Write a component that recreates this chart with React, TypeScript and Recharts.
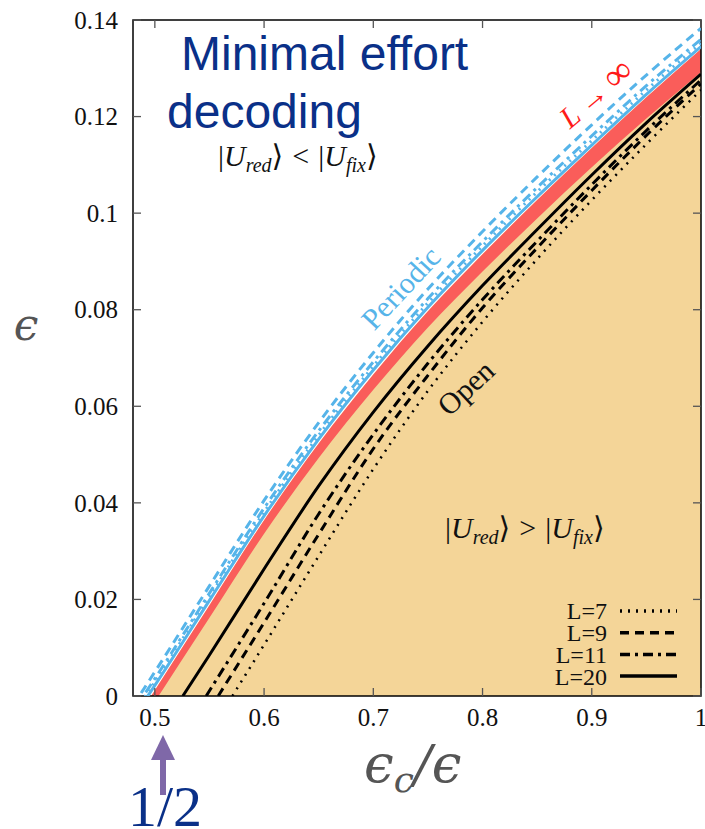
import React from "react";
import { ComposedChart, Line, Area, XAxis, YAxis, ReferenceArea } from "recharts";

const W = 705;
const H = 829;
const PLOT = { left: 133, right: 701, top: 20, bottom: 696 };

const xTicks = [0.5, 0.6, 0.7, 0.8, 0.9, 1];
const yTicks = [0, 0.02, 0.04, 0.06, 0.08, 0.1, 0.12, 0.14];

// L -> infinity band (lower / upper edge)
const bandX = [0.49, 0.5, 0.55, 0.6, 0.65, 0.7, 0.75, 0.8, 0.85, 0.9, 0.95, 1.0];
const bandLo = [-0.0047, -0.0012, 0.0162, 0.0336, 0.0493, 0.0634, 0.0763, 0.0879, 0.0989, 0.1095, 0.1196, 0.1292];
const bandHi = [-0.0023, 0.0012, 0.0188, 0.0364, 0.0523, 0.0666, 0.0797, 0.0915, 0.1027, 0.1135, 0.124, 0.134];

// periodic boundaries
const perX = [0.48, 0.49, 0.5, 0.55, 0.6, 0.65, 0.7, 0.75, 0.8, 0.85, 0.9, 0.95, 1.0];
const perL7 = [-0.0038, -0.0005, 0.0029, 0.0206, 0.0381, 0.054, 0.0683, 0.0814, 0.0932, 0.1044, 0.115, 0.1255, 0.1352];
const perL9 = [-0.002, 0.0015, 0.005, 0.0228, 0.0405, 0.0566, 0.0711, 0.0843, 0.0962, 0.1075, 0.1183, 0.1286, 0.1383];
const perL11 = [-0.0032, 0.0002, 0.0036, 0.0213, 0.0389, 0.0549, 0.0692, 0.0823, 0.0941, 0.1053, 0.116, 0.1264, 0.136];
const perL20 = [-0.0045, -0.0012, 0.0022, 0.0198, 0.0373, 0.0532, 0.0675, 0.0805, 0.0923, 0.1034, 0.1141, 0.1246, 0.1345];

// open boundaries
const openL7X = [0.571, 0.6, 0.65, 0.7, 0.75, 0.8, 0.85, 0.9, 0.95, 1.0];
const openL7 = [0, 0.0106, 0.029, 0.047, 0.0632, 0.0775, 0.0905, 0.1027, 0.1143, 0.1255];
const openL9X = [0.558, 0.6, 0.65, 0.7, 0.75, 0.8, 0.85, 0.9, 0.95, 1.0];
const openL9 = [0, 0.0152, 0.0335, 0.0512, 0.0664, 0.0804, 0.0928, 0.1047, 0.1161, 0.1268];
const openL11X = [0.547, 0.6, 0.65, 0.7, 0.75, 0.8, 0.85, 0.9, 0.95, 1.0];
const openL11 = [0, 0.0192, 0.0377, 0.0542, 0.0689, 0.0821, 0.0942, 0.1059, 0.1171, 0.1276];
const openL20X = [0.5256, 0.55, 0.6, 0.65, 0.7, 0.75, 0.8, 0.85, 0.9, 0.95, 1.0];
const openL20 = [0, 0.0085, 0.0263, 0.0435, 0.0588, 0.0725, 0.085, 0.0966, 0.1079, 0.1187, 0.1288];

const legendNames = ["L=7", "L=9", "L=11", "L=20"];
const dashes = ["2 6", "9 6", "10 5 3 5", ""];

const BEIGE = "#f4d598";
const RED = "#fa5d5a";
const BLUE = "#56b4e9";
const NAVY = "#0a3088";
const SERIF = "'Liberation Serif', 'DejaVu Serif', serif";

const pts = (xs: number[], ys: number[]) => xs.map((x, i) => ({ x, y: ys[i] }));
const bandData = bandX.map((x, i) => ({ x, y: bandHi[i], band: [bandLo[i], bandHi[i]] }));

const XTick = (props: any) => {
  const { x, payload } = props;
  return (
    <g>
      <line x1={x} x2={x} y1={PLOT.bottom} y2={PLOT.bottom - 8} stroke="#555" strokeWidth={1.3} />
      <line x1={x} x2={x} y1={PLOT.top} y2={PLOT.top + 8} stroke="#555" strokeWidth={1.3} />
      <text x={x} y={PLOT.bottom + 30} textAnchor="middle" fontFamily={SERIF} fontSize={25} fill="#111">
        {payload.value}
      </text>
    </g>
  );
};

const YTick = (props: any) => {
  const { y, payload } = props;
  return (
    <g>
      <line x1={PLOT.left} x2={PLOT.left + 8} y1={y} y2={y} stroke="#555" strokeWidth={1.3} />
      <line x1={PLOT.right} x2={PLOT.right - 8} y1={y} y2={y} stroke="#555" strokeWidth={1.3} />
      <text x={118} y={y} dy="0.35em" textAnchor="end" fontFamily={SERIF} fontSize={25} fill="#111">
        {payload.value}
      </text>
    </g>
  );
};

function UText({ x, y, op }: { x: number; y: number; op: string }) {
  const sub = { fontSize: 20, fontStyle: "italic" as const };
  return (
    <text x={x} y={y} fontFamily={SERIF} fontSize={30} fill="#111">
      |<tspan fontStyle="italic">U</tspan>
      <tspan {...sub} dy={6}>red</tspan>
      <tspan dy={-6}>⟩</tspan>
      <tspan dx={9}>{op}</tspan>
      <tspan dx={9}>|</tspan>
      <tspan fontStyle="italic">U</tspan>
      <tspan {...sub} dy={6}>fix</tspan>
      <tspan dy={-6}>⟩</tspan>
    </text>
  );
}

function Overlay() {
  return (
    <svg width={W} height={H} style={{ position: "absolute", left: 0, top: 0, pointerEvents: "none" }}>
      <text x={181} y={70} fontFamily="'Liberation Sans', Arial, sans-serif" fontSize={48} fill={NAVY}>
        Minimal effort
      </text>
      <text x={167} y={128} fontFamily="'Liberation Sans', Arial, sans-serif" fontSize={48} fill={NAVY}>
        decoding
      </text>

      <UText x={218} y={166} op="<" />
      <UText x={445} y={538} op=">" />

      <text x={401} y={298} textAnchor="middle" transform="rotate(-47 401 288)" fontFamily={SERIF} fontSize={30} fill={BLUE}>
        Periodic
      </text>
      <text x={466} y={398} textAnchor="middle" transform="rotate(-43 466 388)" fontFamily={SERIF} fontSize={30} fill="#111">
        Open
      </text>
      <text x={597} y={104} textAnchor="middle" transform="rotate(-40 597 95)" fontFamily={SERIF} fontSize={30} fill="#ff1a1a">
        <tspan fontStyle="italic">L</tspan>
        <tspan dx={6}>→</tspan>
        <tspan dx={6} fontSize={38}>∞</tspan>
      </text>

      <text x={26} y={340} textAnchor="middle" fontFamily="'DejaVu Serif', serif" fontStyle="italic" fontSize={44} fill="#555">
        ϵ
      </text>
      <text x={364} y={782} fontFamily="'DejaVu Serif', serif" fontStyle="italic" fontSize={53} fill="#555">
        ϵ<tspan fontSize={36} dy={10}>c</tspan>
        <tspan dy={-10}>/ϵ</tspan>
      </text>

      <rect x={160} y={755} width={6} height={40} fill="#7f68a8" />
      <polygon points="163,735 151,760 175,760" fill="#7f68a8" />
      <text x={128} y={826} fontFamily={SERIF} fontSize={58} fill={NAVY}>
        1/2
      </text>

      {legendNames.map((name, i) => {
        const y = 611 + i * 21.7;
        return (
          <g key={name}>
            <text x={607} y={y} dy="0.35em" textAnchor="end" fontFamily={SERIF} fontSize={24} fill="#111">
              {name}
            </text>
            <line x1={620} x2={677} y1={y} y2={y} stroke="#000" strokeWidth={3.5} strokeDasharray={dashes[i] || undefined} />
          </g>
        );
      })}
    </svg>
  );
}

export default function App() {
  return (
    <div style={{ position: "absolute", left: 0, top: 0, width: W, height: H, background: "#fff" }}>
      <ComposedChart width={W} height={H} margin={{ top: 20, right: 4, bottom: 0, left: 0 }}>
        <XAxis
          type="number"
          dataKey="x"
          domain={[0.48, 1]}
          ticks={xTicks}
          allowDataOverflow
          height={133}
          axisLine={false}
          tickLine={false}
          tick={<XTick />}
        />
        <YAxis
          type="number"
          domain={[0, 0.14]}
          ticks={yTicks}
          allowDataOverflow
          width={133}
          axisLine={false}
          tickLine={false}
          tick={<YTick />}
        />
        <Area data={bandData} dataKey="y" type="monotone" stroke="none" fill={BEIGE} fillOpacity={1} isAnimationActive={false} />
        <Area data={bandData} dataKey="band" type="monotone" stroke="none" fill={RED} fillOpacity={1} isAnimationActive={false} />

        <Line data={pts(perX, perL9)} dataKey="y" type="monotone" stroke={BLUE} strokeWidth={3} strokeDasharray="9 6" dot={false} isAnimationActive={false} />
        <Line data={pts(perX, perL11)} dataKey="y" type="monotone" stroke={BLUE} strokeWidth={3} strokeDasharray="10 5 3 5" dot={false} isAnimationActive={false} />
        <Line data={pts(perX, perL7)} dataKey="y" type="monotone" stroke={BLUE} strokeWidth={3} strokeDasharray="2 5" dot={false} isAnimationActive={false} />
        <Line data={pts(perX, perL20)} dataKey="y" type="monotone" stroke={BLUE} strokeWidth={3} dot={false} isAnimationActive={false} />

        <Line data={pts(openL7X, openL7)} dataKey="y" type="monotone" stroke="#000" strokeWidth={2.5} strokeDasharray="2 6" dot={false} isAnimationActive={false} />
        <Line data={pts(openL9X, openL9)} dataKey="y" type="monotone" stroke="#000" strokeWidth={3} strokeDasharray="9 6" dot={false} isAnimationActive={false} />
        <Line data={pts(openL11X, openL11)} dataKey="y" type="monotone" stroke="#000" strokeWidth={3} strokeDasharray="10 5 3 5" dot={false} isAnimationActive={false} />
        <Line data={pts(openL20X, openL20)} dataKey="y" type="monotone" stroke="#000" strokeWidth={3} dot={false} isAnimationActive={false} />

        <ReferenceArea x1={0.48} x2={1} y1={0} y2={0.14} fill="none" fillOpacity={0} stroke="#000" strokeWidth={1.5} />
      </ComposedChart>
      <Overlay />
    </div>
  );
}
